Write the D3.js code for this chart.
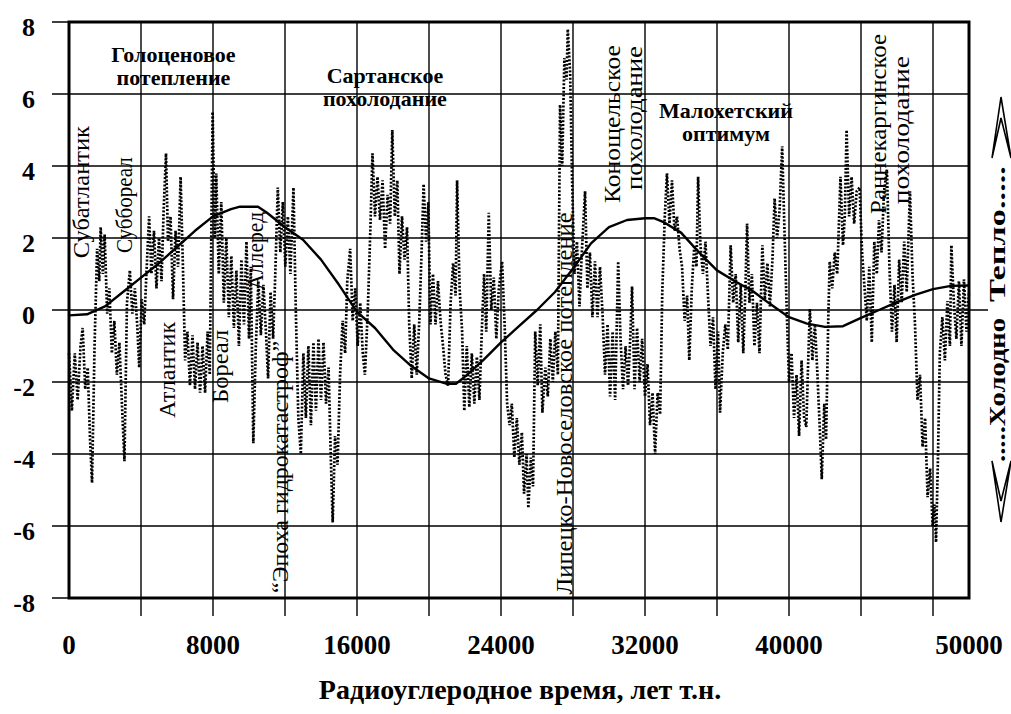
<!DOCTYPE html>
<html>
<head>
<meta charset="utf-8">
<script src="https://cdn.jsdelivr.net/npm/d3@7"></script>
<style>
  html, body { margin: 0; padding: 0; background: #fff; }
</style>
</head>
<body>
<div id="chart"></div>
<script>
// axis values
const xTickValues = [0, 8000, 16000, 24000, 32000, 40000, 50000];
const xGridValues = [4000, 8000, 12000, 16000, 20000, 24000, 28000, 32000, 36000, 40000, 44000, 48000];
const yTickValues = [8, 6, 4, 2, 0, -2, -4, -6, -8];

// dotted proxy record [years BP, anomaly] in blocks
const proxy0to8k = [[0,-1.2],[160,-2.8],[320,-1.2],[480,-2.5],[640,-1.0],[760,-0.5],[900,-2.2],[1040,-1.6],[1170,-3.6],[1280,-4.8],[1420,-1.0],[1560,1.7],[1680,0.8],[1760,2.3],[1880,1.0],[1980,2.1],[2120,-0.1],[2240,0.6],[2380,-1.2],[2520,-0.3],[2660,-1.8],[2800,-0.9],[2940,-2.6],[3080,-4.2],[3220,0.2],[3380,1.1],[3520,-0.1],[3660,0.6],[3800,-0.5],[3900,-1.6],[4040,0.3],[4180,-0.4],[4300,1.0],[4450,2.6],[4580,1.0],[4720,2.2],[4860,0.6],[5000,2.0],[5140,0.8],[5260,2.8],[5390,4.35],[5500,1.9],[5640,2.6],[5780,0.3],[5920,2.2],[6060,1.2],[6200,3.7],[6320,1.4],[6450,-1.4],[6580,-0.6],[6720,-2.1],[6860,-0.7],[7000,-2.2],[7140,-0.9],[7280,-2.3],[7420,-1.0],[7560,-2.3],[7700,-0.6],[7820,-1.8],[7980,5.5]];
const proxy8to16k = [[8100,2.0],[8180,3.8],[8320,1.0],[8460,3.0],[8600,0.2],[8740,2.0],[8880,-0.2],[9020,1.5],[9160,-0.5],[9300,1.1],[9440,-1.0],[9580,1.4],[9720,-0.4],[9860,1.9],[10000,-0.8],[10100,1.2],[10240,-3.7],[10380,-1.0],[10520,0.8],[10660,-0.7],[10800,0.7],[10940,-0.6],[11060,-1.9],[11200,0.5],[11340,-0.8],[11460,1.0],[11600,3.4],[11740,1.6],[11880,3.0],[12020,1.2],[12160,2.6],[12300,1.0],[12470,3.4],[12600,0.0],[12740,-3.0],[12880,-4.0],[13020,-1.2],[13160,-3.0],[13300,-1.0],[13440,-3.2],[13580,-0.9],[13720,-2.8],[13860,-0.8],[14000,-2.5],[14140,-0.9],[14280,-2.6],[14420,-1.6],[14540,-4.0],[14650,-5.9],[14780,-3.5],[14920,-4.3],[15060,-1.8],[15200,-0.3],[15340,-1.2],[15460,0.8],[15620,1.7],[15760,-0.3],[15900,0.6]];
const proxy16to24k = [[16040,-1.0],[16180,0.2],[16320,-1.2],[16440,-1.8],[16600,0.0],[16740,2.2],[16860,4.35],[17000,2.6],[17140,3.7],[17280,2.5],[17420,3.6],[17560,1.7],[17700,3.2],[17840,2.4],[17960,5.0],[18100,2.6],[18240,3.6],[18360,1.0],[18500,2.6],[18640,1.4],[18780,2.3],[18900,-0.4],[19040,-1.9],[19180,-0.4],[19320,-1.8],[19460,-0.3],[19580,1.5],[19700,3.5],[19840,1.9],[19960,3.0],[20080,-0.4],[20220,1.0],[20360,-0.4],[20500,0.8],[20640,-0.3],[20780,-1.0],[20920,-1.8],[21060,-2.1],[21200,0.2],[21340,1.3],[21480,0.4],[21560,3.6],[21700,0.6],[21840,-0.6],[21960,-2.8],[22100,-1.0],[22240,-2.7],[22380,-1.2],[22520,-2.6],[22660,-1.3],[22800,-2.5],[22940,-0.5],[23060,1.0],[23180,-0.6],[23320,2.7],[23460,0.0],[23600,0.9],[23740,-0.8],[23880,0.6]];
const proxy24to32k = [[24060,1.35],[24200,-0.4],[24340,-2.6],[24480,-3.2],[24600,-2.6],[24740,-4.1],[24880,-3.0],[25020,-4.3],[25160,-3.4],[25280,-5.1],[25420,-4.0],[25520,-5.5],[25660,-4.1],[25780,-4.9],[25900,-0.6],[26040,-2.1],[26180,-0.4],[26300,-2.85],[26460,-1.6],[26600,-2.4],[26740,-0.8],[26880,-2.0],[27020,-0.6],[27160,-1.8],[27280,5.7],[27400,4.0],[27520,7.0],[27640,6.4],[27710,7.8],[27840,6.6],[27950,3.6],[28080,1.0],[28220,1.9],[28360,0.1],[28500,1.7],[28670,3.3],[28800,0.6],[28940,1.6],[29080,-0.2],[29220,1.35],[29360,-0.2],[29500,1.2],[29640,-0.1],[29780,-1.8],[29920,-0.4],[30060,-2.4],[30200,-0.6],[30340,-2.5],[30510,1.35],[30640,-0.8],[30780,-2.2],[30920,-1.0],[31060,-2.1],[31180,-0.8],[31280,0.65],[31420,-2.2],[31560,-0.5],[31700,-2.0],[31840,-0.8]];
const proxy32to40k = [[32000,-2.4],[32140,-1.5],[32280,-3.2],[32420,-2.3],[32560,-4.0],[32700,-2.3],[32840,-2.9],[32960,0.5],[33100,2.6],[33220,3.8],[33360,2.4],[33500,3.6],[33640,2.2],[33780,2.6],[33920,1.7],[34060,1.2],[34200,-0.3],[34340,0.4],[34460,-1.4],[34600,0.6],[34740,1.8],[34860,1.2],[34950,3.7],[35080,1.8],[35220,1.0],[35360,1.9],[35500,0.4],[35640,-1.0],[35780,-0.2],[35920,-2.2],[36060,-0.6],[36170,-2.85],[36320,-1.2],[36460,-0.4],[36600,-1.1],[36760,1.8],[36900,0.2],[37040,1.0],[37180,-0.9],[37320,0.7],[37460,-1.2],[37580,0.6],[37670,2.4],[37800,0.2],[37940,1.0],[38080,-1.0],[38220,0.2],[38360,-1.2],[38520,1.8],[38660,0.3],[38800,1.3],[38940,0.1],[39080,1.4],[39200,3.1],[39340,2.0],[39480,2.8],[39620,4.55],[39760,2.0],[39880,-0.1]];
const proxy40to50k = [[40000,-2.0],[40140,-1.2],[40280,-3.0],[40420,-1.8],[40560,-3.5],[40700,-1.4],[40840,-3.0],[40960,-3.25],[41080,-1.2],[41160,0.03],[41300,-1.4],[41440,-0.4],[41580,-1.8],[41720,-3.4],[41820,-4.7],[41960,-2.6],[42060,-3.6],[42180,-0.3],[42260,1.35],[42400,0.6],[42540,1.6],[42680,1.0],[42860,3.7],[43000,1.8],[43100,2.6],[43200,5.0],[43340,2.6],[43480,3.7],[43620,2.4],[43760,3.3],[43920,3.4],[44060,1.6],[44200,0.6],[44320,-0.3],[44460,1.2],[44600,-0.9],[44740,1.9],[44880,1.0],[45000,2.5],[45140,1.6],[45280,3.3],[45440,3.9],[45580,1.2],[45720,-0.6],[45860,0.7],[45980,-0.9],[46120,1.4],[46260,0.2],[46400,1.9],[46540,0.5],[46720,3.3],[46860,1.0],[47000,-0.4],[47140,-2.5],[47280,-1.8],[47420,-3.8],[47560,-3.0],[47700,-5.2],[47840,-4.4],[47980,-6.0],[48080,-5.4],[48170,-6.45],[48280,-4.0],[48380,-1.2],[48520,-0.2],[48660,-1.4],[48800,0.25],[48940,-1.0],[49020,1.8],[49160,0.2],[49300,-0.8],[49440,0.8],[49580,-1.0],[49720,0.85],[49860,-0.6],[50000,0.5]];

// smoothed trend line
const trendYears = [0, 1000, 2000, 3000, 4000, 5000, 6000, 7000, 8000, 9000, 9500, 10500, 11000, 12000, 13000, 14000, 15000, 16000, 17000, 18000, 19000, 20000, 21000, 21500, 22000, 23000, 24000, 25000, 26000, 27000, 28000, 29000, 30000, 31000, 32000, 32500, 33000, 34000, 35000, 36000, 37000, 38000, 39000, 40000, 41000, 42000, 43000, 44000, 45000, 46000, 47000, 48000, 49000, 50000];
const trendValues = [-0.15, -0.12, 0.1, 0.5, 0.9, 1.3, 1.75, 2.2, 2.6, 2.8, 2.87, 2.87, 2.7, 2.3, 1.95, 1.4, 0.7, -0.05, -0.5, -1.1, -1.55, -1.9, -2.05, -2.05, -1.85, -1.4, -0.9, -0.45, 0.0, 0.5, 1.15, 1.85, 2.3, 2.5, 2.55, 2.55, 2.45, 2.15, 1.6, 1.1, 0.8, 0.52, 0.15, -0.2, -0.38, -0.47, -0.45, -0.22, 0.0, 0.22, 0.42, 0.58, 0.67, 0.68];

const W = 1011, H = 714;
const plot = { left: 69, right: 969, top: 22, bottom: 598 };
const serif = '"Liberation Serif", Tinos, "Times New Roman", Times, "Nimbus Roman", FreeSerif, "DejaVu Serif", "Noto Serif", serif';

const svg = d3.select('#chart').append('svg')
  .attr('width', W)
  .attr('height', H)
  .style('font-family', serif)
  .style('background', '#fff');

const x = d3.scaleLinear().domain([0, 50000]).range([plot.left, plot.right]);
const y = d3.scaleLinear().domain([-8, 8]).range([plot.bottom, plot.top]);

// horizontal grid, sticking out to the left of the frame
svg.selectAll('.hgrid')
  .data(yTickValues)
  .enter()
  .append('line')
  .attr('x1', plot.left - 17)
  .attr('x2', d => d === 0 ? plot.right + 19 : plot.right)
  .attr('y1', d => y(d))
  .attr('y2', d => y(d))
  .attr('stroke', '#000')
  .attr('stroke-width', 1.4);

// vertical grid, running below the frame
svg.selectAll('.vgrid')
  .data(xGridValues)
  .enter()
  .append('line')
  .attr('x1', d => x(d))
  .attr('x2', d => x(d))
  .attr('y1', plot.top)
  .attr('y2', plot.bottom + 18)
  .attr('stroke', '#000')
  .attr('stroke-width', 1.4);

const proxy = [].concat(proxy0to8k, proxy8to16k, proxy16to24k, proxy24to32k, proxy32to40k, proxy40to50k);

svg.append('path')
  .datum(proxy)
  .attr('fill', 'none')
  .attr('stroke', '#000')
  .attr('stroke-width', 2.7)
  .attr('stroke-dasharray', '2,1.7')
  .attr('d', d3.line().x(d => x(d[0])).y(d => y(d[1])));

const trend = trendYears.map((t, i) => [t, trendValues[i]]);
svg.append('path')
  .datum(trend)
  .attr('fill', 'none')
  .attr('stroke', '#000')
  .attr('stroke-width', 2.4)
  .attr('stroke-linejoin', 'round')
  .attr('d', d3.line().x(d => x(d[0])).y(d => y(d[1])));

// frame
svg.append('rect')
  .attr('x', plot.left)
  .attr('y', plot.top)
  .attr('width', plot.right - plot.left)
  .attr('height', plot.bottom - plot.top)
  .attr('fill', 'none')
  .attr('stroke', '#000')
  .attr('stroke-width', 3);

// tick labels
svg.selectAll('.ylab')
  .data(yTickValues)
  .enter()
  .append('text')
  .attr('x', 35)
  .attr('y', d => y(d) + 14)
  .attr('text-anchor', 'end')
  .style('font-size', '26px')
  .style('font-weight', 'bold')
  .text(d => d);

svg.selectAll('.xlab')
  .data(xTickValues)
  .enter()
  .append('text')
  .attr('x', d => x(d))
  .attr('y', 654)
  .attr('text-anchor', 'middle')
  .style('font-size', '27px')
  .style('font-weight', 'bold')
  .text(d => d);

svg.append('text')
  .attr('x', 520)
  .attr('y', 699)
  .attr('text-anchor', 'middle')
  .style('font-size', '28px')
  .style('font-weight', 'bold')
  .text('Радиоуглеродное время, лет т.н.');

// horizontal period names (two lines each)
const headNotes = [
  { year: 5800, value: 6.9, lines: ['Голоценовое', 'потепление'] },
  { year: 17550, value: 6.3, lines: ['Сартанское', 'похолодание'] },
  { year: 36500, value: 5.33, lines: ['Малохетский', 'оптимум'] }
];
headNotes.forEach(n => {
  const t = svg.append('text')
    .attr('text-anchor', 'middle')
    .style('font-size', '22px')
    .style('font-weight', 'bold');
  n.lines.forEach((s, i) => {
    t.append('tspan')
      .attr('x', x(n.year))
      .attr('y', y(n.value) + i * 23)
      .text(s);
  });
});

// vertical stage names, reading bottom to top
const sideNotes = [
  { text: 'Субатлантик', year: 1110, value: 1.44, len: 132 },
  { text: 'Суббореал', year: 3500, value: 1.58, len: 96 },
  { text: 'Атлантик', year: 5890, value: -3.0, len: 96 },
  { text: 'Бореал', year: 8830, value: -2.58, len: 73 },
  { text: 'Аллеред', year: 10780, value: 0.56, len: 78 },
  { text: '“Эпоха гидрокатастроф”', year: 12170, value: -7.86, len: 252 },
  { text: 'Липецко-Новоселовское потепление', year: 27950, value: -7.9, len: 382 },
  { text: 'Конощельское', year: 30610, value: 2.97, len: 158 },
  { text: 'похолодание', year: 31830, value: 3.33, len: 144 },
  { text: 'Раннекаргинское', year: 45390, value: 2.67, len: 180 },
  { text: 'похолодание', year: 46670, value: 2.94, len: 148 }
];
svg.selectAll('.side-note')
  .data(sideNotes)
  .enter()
  .append('text')
  .attr('class', 'side-note')
  .attr('transform', d => `translate(${x(d.year)},${y(d.value)}) rotate(-90)`)
  .attr('textLength', d => d.len)
  .attr('lengthAdjust', 'spacingAndGlyphs')
  .style('font-size', '23px')
  .text(d => d.text);

// cold / warm scale on the right
const scaleNotes = [
  { text: '.....Холодно', value: -4.22, len: 144 },
  { text: 'Тепло.....', value: 0.22, len: 136 }
];
svg.selectAll('.scale-note')
  .data(scaleNotes)
  .enter()
  .append('text')
  .attr('transform', d => `translate(1005,${y(d.value)}) rotate(-90)`)
  .attr('textLength', d => d.len)
  .attr('lengthAdjust', 'spacingAndGlyphs')
  .style('font-size', '24px')
  .style('font-weight', 'bold')
  .text(d => d.text);

// double-lined arrow heads
const arrowUp = 'M1001,97 L1011,158 L1001,118 L992,158 Z';
const arrowDown = 'M1001,522 L1011,461 L1001,501 L992,461 Z';
[arrowUp, arrowDown].forEach(p => {
  svg.append('path')
    .attr('d', p)
    .attr('fill', '#fff')
    .attr('stroke', '#000')
    .attr('stroke-width', 1.6)
    .attr('stroke-linejoin', 'miter');
});
</script>
</body>
</html>
